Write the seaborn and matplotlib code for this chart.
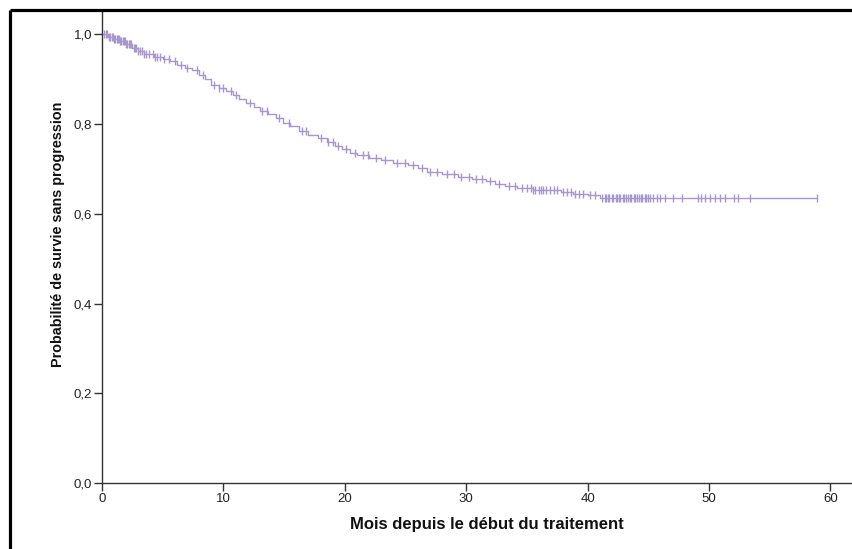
import numpy as np
import pandas as pd
import matplotlib
matplotlib.use("Agg")
import matplotlib.pyplot as plt
from matplotlib.lines import Line2D
from matplotlib.ticker import FuncFormatter
import seaborn as sns

# Kaplan-Meier estimate: event times (months) and survival after each step
event_months = [0.0, 0.5, 1.0, 1.5, 2.0, 2.5, 3.0, 3.5, 4.3, 5.0, 5.6, 6.2, 6.8,
                7.4, 8.0, 8.5, 9.0, 9.6, 10.2, 10.8, 11.3, 11.9, 12.5, 13.0,
                13.7, 14.3, 14.9, 15.5, 16.2, 17.0, 17.8, 18.5, 19.2, 19.8,
                20.4, 21.0, 22.0, 23.0, 24.0, 25.2, 26.0, 26.8, 28.0, 29.3,
                30.5, 31.6, 32.4, 33.2, 34.2, 35.5, 37.8, 38.8, 40.0, 41.0]
survival = [1.000, 0.995, 0.990, 0.985, 0.978, 0.970, 0.962, 0.955, 0.950,
            0.946, 0.940, 0.932, 0.926, 0.920, 0.910, 0.900, 0.888, 0.880,
            0.874, 0.865, 0.855, 0.846, 0.838, 0.830, 0.822, 0.813, 0.803,
            0.795, 0.784, 0.775, 0.768, 0.760, 0.752, 0.745, 0.736, 0.730,
            0.725, 0.719, 0.714, 0.708, 0.701, 0.694, 0.688, 0.681, 0.677,
            0.673, 0.667, 0.662, 0.657, 0.653, 0.649, 0.645, 0.641, 0.635]

# Censored observations (months)
censored_months = [0.2, 0.3, 0.45, 0.6, 0.7, 0.8, 0.9, 1.0, 1.1, 1.2, 1.3, 1.4,
                   1.5, 1.6, 1.7, 1.8, 1.9, 2.0, 2.1, 2.2, 2.3, 2.4, 2.6, 2.7,
                   2.8, 3.0, 3.1, 3.3, 3.5, 3.6, 3.9, 4.2, 4.4, 4.5, 4.8, 5.1,
                   5.5, 6.0, 6.5, 7.0, 7.8, 8.3, 9.2, 9.6, 10.0, 10.6, 11.0,
                   12.2, 13.2, 13.6, 14.6, 15.4, 16.5, 16.8, 18.0, 18.6, 19.0,
                   19.4, 20.1, 20.8, 21.5, 21.9, 22.6, 23.3, 24.3, 25.0, 25.6,
                   26.4, 27.0, 27.6, 28.4, 29.0, 29.6, 30.2, 30.8, 31.3, 32.0,
                   32.7, 33.5, 34.0, 34.6, 35.0, 35.3, 35.5, 35.7, 36.0, 36.2,
                   36.3, 36.6, 36.9, 37.2, 37.5, 38.0, 38.3, 38.6, 39.0, 39.3,
                   39.6, 40.2, 40.6, 41.2, 41.4, 41.5, 41.7, 41.8, 42.0, 42.1,
                   42.3, 42.4, 42.6, 42.7, 42.9, 43.0, 43.2, 43.3, 43.5, 43.6,
                   43.8, 43.9, 44.1, 44.2, 44.4, 44.5, 44.7, 44.8, 45.0, 45.1,
                   45.4, 45.7, 46.0, 46.4, 47.0, 47.8, 49.1, 49.3, 49.7, 50.1,
                   50.5, 50.9, 51.3, 52.1, 52.4, 53.4, 58.9]

x_ticks = [0, 10, 20, 30, 40, 50, 60]
y_ticks = [0.0, 0.2, 0.4, 0.6, 0.8, 1.0]
x_label = "Mois depuis le début du traitement"
y_label = "Probabilité de survie sans progression"

curve_color = "#a897cc"

sns.set_theme(style="white")
plt.rcParams["font.family"] = ["Liberation Sans", "DejaVu Sans"]

# Step curve extends to the last follow-up time
t_end = max(censored_months)
curve = pd.DataFrame({
    "mois": event_months + [t_end],
    "survie": survival + [survival[-1]],
})
idx = np.searchsorted(np.array(event_months), np.array(censored_months), side="right") - 1
marks = pd.DataFrame({
    "mois": censored_months,
    "survie": np.array(survival)[idx],
})

W, H = 853, 549
fig = plt.figure(figsize=(W / 100, H / 100), dpi=100)
ax = fig.add_axes([102 / W, 66 / H, (W - 102) / W, (483 - 12) / H])

sns.lineplot(data=curve, x="mois", y="survie", drawstyle="steps-post",
             color=curve_color, linewidth=1.0, ax=ax, estimator=None, sort=False)
sns.scatterplot(data=marks, x="mois", y="survie", marker="|", s=30,
                linewidth=1.0, color=curve_color, ax=ax, zorder=3)

ax.set_xlim(0, (W - 102) / 12.14)
ax.set_ylim(0, (483 - 12) / 448.7)
ax.set_xticks(x_ticks)
ax.set_yticks(y_ticks)
ax.yaxis.set_major_formatter(FuncFormatter(lambda v, _: f"{v:.1f}".replace(".", ",")))

for side in ("top", "right"):
    ax.spines[side].set_visible(False)
for side in ("left", "bottom"):
    ax.spines[side].set_color("#333333")
    ax.spines[side].set_linewidth(1.0)

ax.tick_params(axis="both", which="major", direction="out", length=5.5, width=1.0,
               color="#333333", labelsize=9.5, labelcolor="#222222", pad=1.5)
ax.tick_params(axis="x", bottom=True)
ax.tick_params(axis="y", left=True)

ax.set_xlabel(x_label, fontsize=12, fontweight="bold", color="#111111")
ax.xaxis.label.set_verticalalignment("center")
ax.xaxis.set_label_coords((487 - 102) / (W - 102), -(524 - 483) / (483 - 12))

ax.set_ylabel(y_label, fontsize=10.4, fontweight="bold", color="#111111")
ax.yaxis.label.set_verticalalignment("center")
ax.yaxis.set_label_coords(-(102 - 58) / (W - 102), (483 - 234) / (483 - 12))

# Frame around the figure (cut off at right and bottom)
fig.add_artist(Line2D([10 / W, 10 / W], [-0.05, (H - 10) / H], transform=fig.transFigure,
                      color="black", linewidth=2.3, solid_capstyle="butt"))
fig.add_artist(Line2D([10 / W, 1.05], [(H - 10) / H, (H - 10) / H], transform=fig.transFigure,
                      color="black", linewidth=2.3, solid_capstyle="butt"))

fig.savefig("out.png", dpi=100, facecolor="white")
